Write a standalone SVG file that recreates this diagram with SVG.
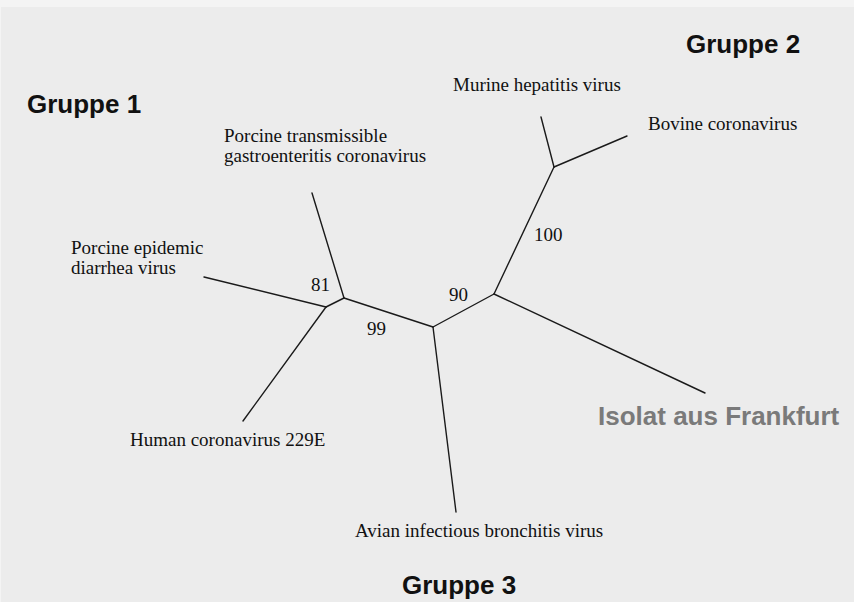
<svg xmlns="http://www.w3.org/2000/svg" width="854" height="602" viewBox="0 0 854 602">
<style>
.br{stroke:#1a1a1a;stroke-width:1.4;fill:none;stroke-linecap:round}
.lab{font-family:"Liberation Serif","Times New Roman",serif;font-size:19px;fill:#111}
.grp{font-family:"Liberation Sans",Arial,sans-serif;font-size:26px;font-weight:bold;fill:#111}
.iso{font-family:"Liberation Sans",Arial,sans-serif;font-size:26px;font-weight:bold;fill:#7a7a7a}
</style>
<rect x="0" y="0" width="854" height="602" fill="#f4f4f4"/>
<rect x="1" y="7" width="853" height="595" fill="#ececec"/>
<g id="connectors">
<line class="br" x1="204" y1="277" x2="326" y2="307"/>
<line class="br" x1="326" y1="307" x2="243" y2="421"/>
<line class="br" x1="326" y1="307" x2="344" y2="298"/>
<line class="br" x1="312" y1="193" x2="344" y2="298"/>
<line class="br" x1="344" y1="298" x2="433" y2="327"/>
<line class="br" x1="433" y1="327" x2="456" y2="512"/>
<line class="br" x1="433" y1="327" x2="494" y2="294"/>
<line class="br" x1="494" y1="294" x2="705" y2="393"/>
<line class="br" x1="494" y1="294" x2="554" y2="167"/>
<line class="br" x1="554" y1="167" x2="541" y2="117"/>
<line class="br" x1="554" y1="167" x2="627" y2="136"/>
</g>
<g id="gruppe1"><text class="grp" x="27" y="113">Gruppe 1</text></g>
<g id="gruppe2"><text class="grp" x="686" y="53">Gruppe 2</text></g>
<g id="gruppe3"><text class="grp" x="402" y="594">Gruppe 3</text></g>
<g id="murine"><text class="lab" x="453" y="91">Murine hepatitis virus</text></g>
<g id="bovine"><text class="lab" x="648" y="130">Bovine coronavirus</text></g>
<g id="tge"><text class="lab" x="224" y="142">Porcine transmissible</text><text class="lab" x="224" y="162">gastroenteritis coronavirus</text></g>
<g id="ped"><text class="lab" x="71" y="254">Porcine epidemic</text><text class="lab" x="71" y="274">diarrhea virus</text></g>
<g id="human"><text class="lab" x="130" y="446">Human coronavirus 229E</text></g>
<g id="avian"><text class="lab" x="355" y="537">Avian infectious bronchitis virus</text></g>
<g id="isolat"><text class="iso" x="598" y="425">Isolat aus Frankfurt</text></g>
<g id="bootstrap">
<text class="lab" x="311" y="291">81</text>
<text class="lab" x="367" y="335">99</text>
<text class="lab" x="449" y="301">90</text>
<text class="lab" x="534" y="241">100</text>
</g>
</svg>
